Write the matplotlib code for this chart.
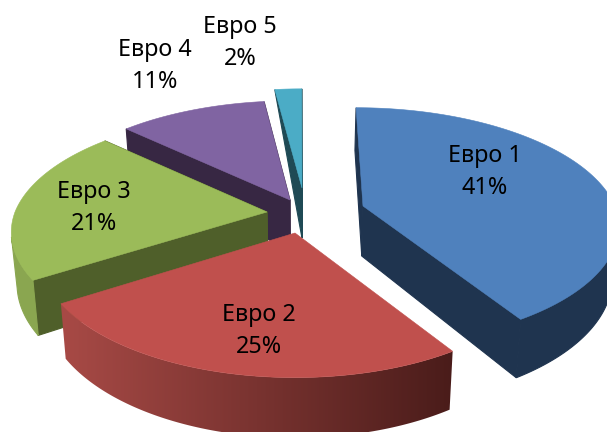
import numpy as np
import matplotlib
matplotlib.use("Agg")
import matplotlib.pyplot as plt
from matplotlib.colors import LinearSegmentedColormap
from matplotlib.patches import Polygon

#data
categories = ["Евро 1", "Евро 2", "Евро 3", "Евро 4", "Евро 5"]
values = [41, 25, 21, 11, 2]

#style of every slice, in pie order
top_colors = ["#4f81bd", "#c0504d", "#9bbb59", "#8064a2", "#4bacc6"]
face_colors = ["#1f344f", None, "#4f5f2a", "#372743", "#1f4a55"]
rim_colors = [("#1f344f", "#1f344f"),
              ("#a84a46", "#4a1c1a"),
              ("#8aa650", "#8aa650"),
              ("#372743", "#372743"),
              ("#1f4a55", "#1f4a55")]
apexes = [(363, 206), (295, 233), (267, 212), (290, 200), (302, 188)]
radii_y = [115, 120, 116, 116, 116]
label_xy = [(485, 172), (259, 331), (94, 208), (155, 66), (240, 43)]
draw_order = [4, 0, 3, 2, 1]

#pie shape in pixels
rx = 252
persp = 0.17
depth = 50
taper = 0.98
mid_x = 300


def top_point(i, theta):
    ax_, ay_ = apexes[i]
    s = 1 + persp * np.cos(theta)
    #far side of the slice leans towards the middle of the pie
    lean = (ax_ - mid_x) * 0.11 * max(np.cos(theta), 0)
    return ax_ - lean + rx * np.sin(theta) / s, ay_ - radii_y[i] * np.cos(theta) / s


def lower(pt, s=1):
    #same point on the underside of the slice
    return mid_x + (pt[0] - mid_x) * taper, pt[1] + depth / s


def low_rim(i, theta):
    return lower(top_point(i, theta), 1 + persp * np.cos(theta))


fig = plt.figure(figsize=(6.07, 4.32), dpi=100)
ax = fig.add_axes([0, 0, 1, 1])

edges = np.cumsum([0] + values) / sum(values) * 2 * np.pi

for i in draw_order:
    a0, a1 = edges[i], edges[i + 1]
    apex = apexes[i]
    thetas = np.linspace(a0, a1, 160)
    top = [top_point(i, t) for t in thetas]
    low = [low_rim(i, t) for t in thetas]

    #the two cut faces (the red slice shows neither)
    apex_low = lower(apex)
    if face_colors[i] is not None:
        for tp, lp in ((top[0], low[0]), (top[-1], low[-1])):
            if i == 4:
                pts = [tp, apex, apex_low]
            else:
                pts = [tp, apex, apex_low, lp]
            ax.add_patch(Polygon(pts, closed=True, fc=face_colors[i], ec=face_colors[i], lw=0.8))

    #outer wall, only where the rim faces the viewer
    front = [k for k, t in enumerate(thetas) if np.cos(t) < -0.2]
    if front:
        outline = [top[k] for k in front] + [low[k] for k in front[::-1]]
        if rim_colors[i][0] == rim_colors[i][1]:
            ax.add_patch(Polygon(outline, closed=True, fc=rim_colors[i][0], ec=rim_colors[i][0], lw=0.8, zorder=1))
        else:
            wall = Polygon(outline, closed=True, fc="none", ec="none", zorder=1)
            ax.add_patch(wall)
            xs = [p[0] for p in outline]
            cmap = LinearSegmentedColormap.from_list("rim", rim_colors[i])
            im = ax.imshow(np.linspace(0, 1, 256).reshape(1, -1), cmap=cmap, aspect="auto",
                           extent=(min(xs), max(xs), 432, 0), zorder=1)
            im.set_clip_path(wall)

    #top surface
    ax.add_patch(Polygon([apex] + top, closed=True, fc=top_colors[i], ec=top_colors[i], lw=0.4, zorder=1))

ax.set_xlim(0, 607)
ax.set_ylim(432, 0)
ax.axis("off")

for name, val, (x, y) in zip(categories, values, label_xy):
    ax.text(x, y, f"{name}\n{val}%", ha="center", va="center", family="Noto Sans",
            fontsize=16.8, color="black", linespacing=1.45, zorder=5)

fig.savefig("out.png", dpi=100)
